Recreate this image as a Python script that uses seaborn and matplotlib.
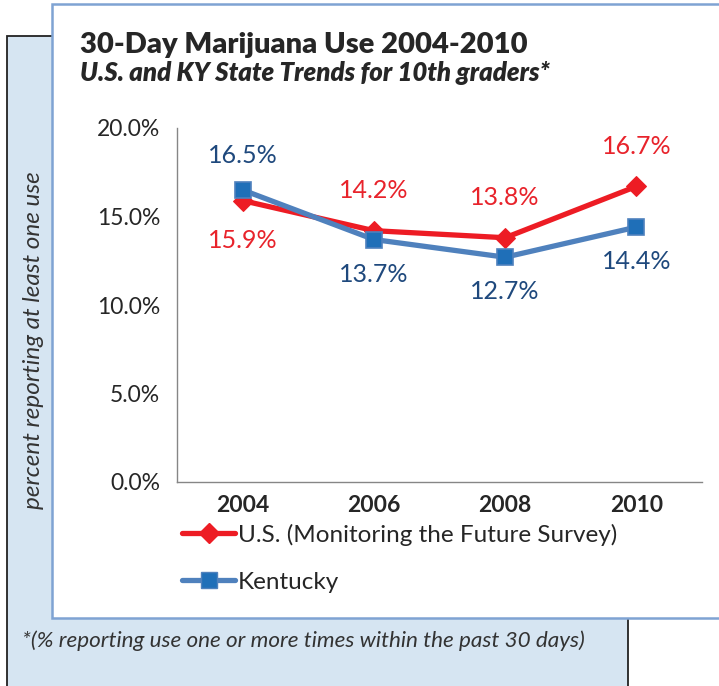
import matplotlib
matplotlib.use("Agg")
import matplotlib.pyplot as plt
from matplotlib.patches import Rectangle
from matplotlib.lines import Line2D
from matplotlib.ticker import PercentFormatter
import seaborn as sns
import pandas as pd

# ---- data ----
years = ["2004", "2006", "2008", "2010"]
us_values = [15.9, 14.2, 13.8, 16.7]
ky_values = [16.5, 13.7, 12.7, 14.4]
series_names = ["U.S. (Monitoring the Future Survey)", "Kentucky"]
y_ticks = [0, 5, 10, 15, 20]

# label placement: +1 above point, -1 below
us_label_side = [-1, 1, 1, 1]
ky_label_side = [1, -1, -1, -1]

RED = "#ED1C24"
RED_TXT = "#E8232B"
BLUE_LINE = "#4F81BD"
BLUE_MARK = "#1F6FB8"
BLUE_TXT = "#1F497D"

sns.set_style("white")
plt.rcParams["font.family"] = ["Lato", "DejaVu Sans"]

df = pd.DataFrame({
    "year": years * 2,
    "value": us_values + ky_values,
    "series": [series_names[0]] * 4 + [series_names[1]] * 4,
})

fig = plt.figure(figsize=(7.19, 6.86), dpi=100)

# background panels
fig.patches.append(Rectangle((7 / 719, -0.01), 621 / 719, 650 / 686 + 0.01,
                             transform=fig.transFigure, facecolor="#D6E5F2",
                             edgecolor="#222222", linewidth=1.3, zorder=0))
fig.patches.append(Rectangle((52 / 719, 68 / 686), 0.95, 614 / 686,
                             transform=fig.transFigure, facecolor="white",
                             edgecolor="#7FA3D3", linewidth=1.8, zorder=1))

ax = fig.add_axes([177 / 719, 204 / 686, 525 / 719, 354 / 686])
ax.set_zorder(3)
ax.set_facecolor("none")

sns.lineplot(data=df[df.series == series_names[0]], x="year", y="value", ax=ax,
             color=RED, linewidth=3.8, marker="D", markersize=10,
             markerfacecolor=RED, markeredgecolor=RED, zorder=3)
sns.lineplot(data=df[df.series == series_names[1]], x="year", y="value", ax=ax,
             color=BLUE_LINE, linewidth=3.8, marker="s", markersize=11,
             markerfacecolor=BLUE_MARK, markeredgecolor=BLUE_LINE,
             markeredgewidth=1.2, zorder=4)

for i, (v, s) in enumerate(zip(us_values, us_label_side)):
    ax.annotate(f"{v:.1f}%", (i, v), xytext=(0, 29 * s), textcoords="offset points",
                ha="center", va="center", fontsize=18, color=RED_TXT)
for i, (v, s) in enumerate(zip(ky_values, ky_label_side)):
    ax.annotate(f"{v:.1f}%", (i, v), xytext=(0, 25 * s), textcoords="offset points",
                ha="center", va="center", fontsize=18, color=BLUE_TXT)

ax.set_ylim(0, 20)
ax.set_xlim(-0.5, 3.5)
ax.set_yticks(y_ticks)
ax.yaxis.set_major_formatter(PercentFormatter(decimals=1))
ax.set_xticks([-0.5, 0.5, 1.5, 2.5, 3.5])
ax.set_xticklabels([])
ax.set_xticks(range(len(years)), minor=True)
ax.set_xticklabels(years, minor=True, fontsize=16.5, fontweight="bold")
ax.tick_params(axis="x", which="minor", length=0, pad=9)
ax.tick_params(axis="x", which="major", length=6, color="#868686", direction="out")
ax.tick_params(axis="y", length=6, color="#868686", direction="out", labelsize=16.5, pad=6)
ax.set_xlabel("")
ax.set_ylabel("")
for side in ["top", "right"]:
    ax.spines[side].set_visible(False)
for side in ["left", "bottom"]:
    ax.spines[side].set_color("#868686")
    ax.spines[side].set_linewidth(1)
if ax.get_legend():
    ax.get_legend().remove()

handles = [
    Line2D([], [], color=RED, linewidth=3.8, marker="D", markersize=10,
           markerfacecolor=RED, markeredgecolor=RED),
    Line2D([], [], color=BLUE_LINE, linewidth=3.8, marker="s", markersize=11,
           markerfacecolor=BLUE_MARK, markeredgecolor=BLUE_LINE),
]
fig.legend(handles, series_names, loc="upper left", bbox_to_anchor=(160 / 719, 1 - 502 / 686),
           frameon=False, fontsize=17.5, handlelength=2.2, handletextpad=0.1,
           labelspacing=1.05)

fig.text(80 / 719, 1 - 45 / 686, "30-Day Marijuana Use 2004-2010", fontsize=21,
         fontweight="heavy", ha="left", va="center")
fig.text(80 / 719, 1 - 73 / 686, "U.S. and KY State Trends for 10th graders*",
         fontsize=18.5, fontweight="heavy", style="italic", ha="left", va="center")
fig.text(34 / 719, 1 - 340 / 686, "percent reporting at least one use", fontsize=17.5,
         style="italic", rotation=90, ha="center", va="center", color="#333333")
fig.text(22 / 719, 1 - 641 / 686,
         "*(% reporting use one or more times within the past 30 days)",
         fontsize=16.2, style="italic", ha="left", va="center", color="#333333")

fig.savefig("out.png", dpi=100)
